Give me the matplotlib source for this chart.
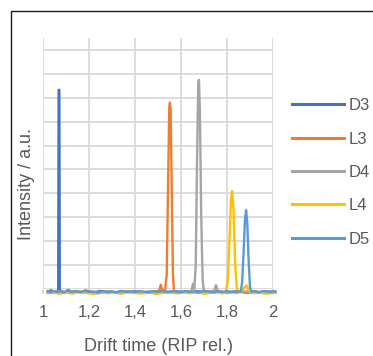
import matplotlib.pyplot as plt
from matplotlib.patches import Rectangle

plt.rcParams['font.family'] = ['Liberation Sans', 'DejaVu Sans']

# Drift time (RIP rel.) / intensity (a.u.)
d3_x = [1.02, 1.035, 1.05, 1.06, 1.066, 1.068, 1.071, 1.073, 1.08, 1.095, 1.11, 1.12, 1.135,
        1.15, 1.17, 1.185, 1.20, 1.22, 1.25, 1.28, 1.31, 1.34, 1.37, 1.40, 1.43, 1.46,
        1.49, 1.52, 1.55, 1.58, 1.61, 1.64, 1.67, 1.70, 1.73, 1.76, 1.79, 1.82, 1.85,
        1.88, 1.91, 1.94, 1.97, 2.01]
d3_y = [-0.12, -0.05, -0.15, -0.10, -0.12, 8.33, 8.33, -0.12, -0.08, -0.16, -0.04, -0.10, -0.14,
        -0.09, -0.13, -0.06, -0.11, -0.15, -0.08, -0.12, -0.14, -0.10, -0.13, -0.09, -0.15, -0.11,
        -0.12, -0.08, -0.14, -0.10, -0.12, -0.15, -0.09, -0.13, -0.11, -0.10, -0.14, -0.12, -0.09,
        -0.13, -0.11, -0.15, -0.10, -0.12]

l3_x = [1.02, 1.04, 1.06, 1.09, 1.12, 1.15, 1.18, 1.21, 1.24, 1.27, 1.30, 1.33, 1.36,
        1.39, 1.42, 1.45, 1.48, 1.505, 1.512, 1.518, 1.53, 1.538, 1.544, 1.549, 1.552,
        1.555, 1.56, 1.565, 1.57, 1.59, 1.62, 1.65, 1.68, 1.71, 1.74, 1.77, 1.80, 1.83,
        1.86, 1.89, 1.92, 1.95, 1.98, 2.01]
l3_y = [-0.10, -0.16, -0.08, -0.13, -0.17, -0.09, -0.14, -0.11, -0.18, -0.10, -0.13, -0.16, -0.09,
        -0.14, -0.12, -0.17, -0.10, -0.08, 0.18, -0.04, -0.10, 0.6, 4.5, 7.6, 7.8,
        7.5, 4.0, 0.6, -0.12, -0.15, -0.10, -0.13, -0.17, -0.09, -0.14, -0.11, -0.16, -0.10,
        -0.13, -0.17, -0.09, -0.14, -0.12, -0.15]

d4_x = [1.02, 1.05, 1.08, 1.11, 1.14, 1.17, 1.20, 1.23, 1.26, 1.29, 1.32, 1.35, 1.38,
        1.41, 1.44, 1.47, 1.50, 1.53, 1.56, 1.59, 1.62, 1.645, 1.652, 1.658, 1.664,
        1.670, 1.675, 1.678, 1.682, 1.688, 1.694, 1.700, 1.72, 1.745, 1.752, 1.76, 1.78,
        1.81, 1.84, 1.87, 1.90, 1.93, 1.96, 1.99, 2.01]
d4_y = [-0.14, -0.10, -0.17, -0.12, -0.08, -0.15, -0.11, -0.18, -0.13, -0.09, -0.16, -0.12, -0.14,
        -0.10, -0.17, -0.11, -0.13, -0.16, -0.09, -0.14, -0.11, -0.10, 0.22, 0.0, 1.0,
        5.5, 8.6, 8.75, 7.5, 3.0, 0.4, -0.10, -0.13, -0.06, 0.16, -0.08, -0.14,
        -0.11, -0.16, -0.10, -0.13, -0.17, -0.09, -0.12, -0.14]

l4_x = [1.02, 1.045, 1.07, 1.10, 1.13, 1.16, 1.19, 1.22, 1.25, 1.28, 1.31, 1.34, 1.37,
        1.40, 1.43, 1.46, 1.49, 1.52, 1.55, 1.58, 1.61, 1.64, 1.67, 1.70, 1.73,
        1.76, 1.78, 1.795, 1.803, 1.810, 1.817, 1.822, 1.828, 1.835, 1.842, 1.848, 1.86,
        1.875, 1.885, 1.895, 1.91, 1.94, 1.97, 2.01]
l4_y = [-0.18, -0.12, -0.20, -0.14, -0.19, -0.11, -0.17, -0.21, -0.13, -0.18, -0.15, -0.20, -0.12,
        -0.17, -0.19, -0.14, -0.21, -0.16, -0.12, -0.19, -0.15, -0.18, -0.13, -0.20, -0.16,
        -0.14, -0.19, -0.12, 0.3, 1.8, 3.7, 4.1, 3.4, 1.2, 0.1, -0.12, -0.10,
        0.05, 0.15, -0.05, -0.18, -0.14, -0.20, -0.16]

d5_x = [1.02, 1.03, 1.045, 1.06, 1.075, 1.09, 1.105, 1.12, 1.14, 1.16, 1.18, 1.20, 1.22,
        1.24, 1.26, 1.28, 1.30, 1.32, 1.34, 1.36, 1.38, 1.40, 1.42, 1.44, 1.46,
        1.48, 1.50, 1.52, 1.54, 1.56, 1.58, 1.60, 1.62, 1.64, 1.66, 1.68, 1.70,
        1.72, 1.74, 1.76, 1.78, 1.80, 1.82, 1.84, 1.86, 1.866, 1.872, 1.878, 1.883,
        1.888, 1.894, 1.900, 1.906, 1.92, 1.94, 1.96, 1.98, 2.01]
d5_y = [-0.10, -0.14, -0.08, -0.13, -0.09, -0.15, -0.06, -0.12, -0.10, -0.14, -0.08, -0.12, -0.11,
        -0.15, -0.09, -0.13, -0.10, -0.14, -0.08, -0.12, -0.10, -0.13, -0.09, -0.11, -0.14,
        -0.10, -0.12, -0.08, -0.13, -0.10, -0.11, -0.14, -0.09, -0.12, -0.10, -0.13, -0.08,
        -0.11, -0.14, -0.10, -0.12, -0.09, -0.13, -0.10, -0.11, 0.3, 1.5, 2.9, 3.3,
        2.8, 1.2, 0.1, -0.12, -0.10, -0.13, -0.09, -0.12, -0.10]

series = [
    ('D3', d3_x, d3_y, '#4472C4'),
    ('L3', l3_x, l3_y, '#ED7D31'),
    ('D4', d4_x, d4_y, '#A5A5A5'),
    ('L4', l4_x, l4_y, '#FFC000'),
    ('D5', d5_x, d5_y, '#5B9BD5'),
]
x_ticks = [1, 1.2, 1.4, 1.6, 1.8, 2]
x_tick_labels = ['1', '1,2', '1,4', '1,6', '1,8', '2']

fig = plt.figure(figsize=(3.73, 3.56), dpi=100)
ax = fig.add_axes([43 / 373, 1 - 289 / 356, 230 / 373, 251 / 356])

grid_c = '#D9D9D9'
text_c = '#595959'

for name, xs, ys, c in series:
    ax.plot(xs, ys, color=c, lw=1.7, label=name, clip_on=False, solid_joinstyle='round')

ax.set_xlim(1, 2)
ax.set_ylim(0, 10.5)
ax.set_xticks(x_ticks)
ax.set_xticklabels(x_tick_labels)
ax.set_yticks(range(0, 11))
ax.set_yticklabels([])
ax.grid(True, color=grid_c, lw=1.3)
ax.set_axisbelow(True)
for s in ax.spines.values():
    s.set_visible(False)
ax.tick_params(axis='y', length=0)
ax.tick_params(axis='x', length=3.6, width=1.3, color=grid_c, pad=8,
               labelsize=12, labelcolor=text_c)

ax.set_xlabel('Drift time (RIP rel.)', fontsize=13, color=text_c)
ax.xaxis.set_label_coords(0.5, -0.231)
ax.xaxis.label.set_verticalalignment('center')
ax.set_ylabel('Intensity / a.u.', fontsize=13, color=text_c)
ax.yaxis.set_label_coords(-0.07, 0.418)
ax.yaxis.label.set_verticalalignment('center')

leg = ax.legend(loc='center left', bbox_to_anchor=(292 / 373, 1 - 172.5 / 356),
                bbox_transform=fig.transFigure, frameon=False, fontsize=12,
                handlelength=3.1, handletextpad=0.3, labelspacing=1.1,
                borderpad=0, borderaxespad=0)
for t in leg.get_texts():
    t.set_color(text_c)
for h in leg.get_lines():
    h.set_linewidth(2.2)

fig.add_artist(Rectangle((10.5 / 373, -0.5), 2, 1.5 - 10.5 / 356, transform=fig.transFigure,
                         fill=False, edgecolor='#1a1a1a', lw=1.0))

fig.savefig('out.png', dpi=100)
